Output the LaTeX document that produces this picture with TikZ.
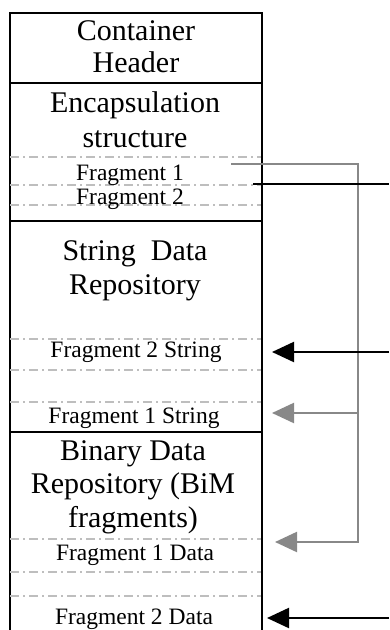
\documentclass[tikz,border=0pt]{standalone}
\usepackage{fontspec}
\setmainfont{Liberation Serif}
\usetikzlibrary{arrows.meta}
\definecolor{sepgray}{HTML}{BEBEBE}
\definecolor{congray}{HTML}{888888}
\begin{document}
\begin{tikzpicture}[x=1pt,y=-1pt,
  frame/.style={line width=2.2pt,black,line join=miter},
  sep/.style={draw=sepgray, line width=1.6pt, dash pattern=on 9pt off 4pt on 2pt off 4pt},
  big/.style={font=\fontsize{30}{32}\selectfont, anchor=base, inner sep=0pt},
  small/.style={font=\fontsize{23.5}{26}\selectfont, anchor=base, inner sep=0pt},
  gline/.style={draw=congray, line width=2.2pt},
  bline/.style={draw=black, line width=2.2pt},
  tipg/.style={-{Triangle[length=22pt,width=20pt,fill=congray]}},
  tipb/.style={-{Triangle[length=22pt,width=20pt,fill=black]}}
]
\useasboundingbox (0,0) rectangle (389,630);

% frame
\draw[frame] (10,630) -- (10,13) -- (262,13) -- (262,630);
\draw[frame] (10,83) -- (262,83);
\draw[frame] (10,221) -- (262,221);
\draw[frame] (10,432) -- (262,432);

% dash-dot separators
\foreach \yy in {157,185,205,339,370,402,539,572,596}
  \draw[sep] (10,\yy) -- (261,\yy);

% texts
\node[big] (ch1) at (136,40) {Container};
\node[big] (ch2) at (136,72) {Header};
\node[big] (es1) at (135,112) {Encapsulation};
\node[big] (es2) at (135,147) {structure};
\node[small] (f1) at (130,180) {Fragment 1};
\node[small] (f2) at (130,204) {Fragment 2};
\node[big] (sd1) at (135,260) {String~~Data};
\node[big] (sd2) at (135,294) {Repository};
\node[small] (f2s) at (136,357) {Fragment 2 String};
\node[small] (f1s) at (134,423) {Fragment 1 String};
\node[big] (bd1) at (133,460) {Binary Data};
\node[big] (bd2) at (133,493) {Repository (BiM};
\node[big] (bd3) at (133,527) {fragments)};
\node[small] (f1d) at (135,560) {Fragment 1 Data};
\node[small] (f2d) at (134,624) {Fragment 2 Data};

% connector coordinates
\coordinate (g0) at (231,164);
\coordinate (gd) at (358,542);
\coordinate (gb) at (358,413);
\coordinate (t1d) at (275,542);
\coordinate (t1s) at (272,413);
\coordinate (b0) at (253,184);
\coordinate (bR) at (389,184);
\coordinate (s2R) at (389,352);
\coordinate (t2s) at (272,352);
\coordinate (d2R) at (389,618);
\coordinate (t2d) at (267,618);

% gray connector (fragment 1)
\draw[gline,tipg] (g0) -| (gd) -- (t1d);
\draw[gline,tipg] (gb) -- (t1s);

% black connectors (fragment 2)
\draw[bline] (b0) -- (bR);
\draw[bline,tipb] (s2R) -- (t2s);
\draw[bline,tipb] (d2R) -- (t2d);
\end{tikzpicture}
\end{document}
